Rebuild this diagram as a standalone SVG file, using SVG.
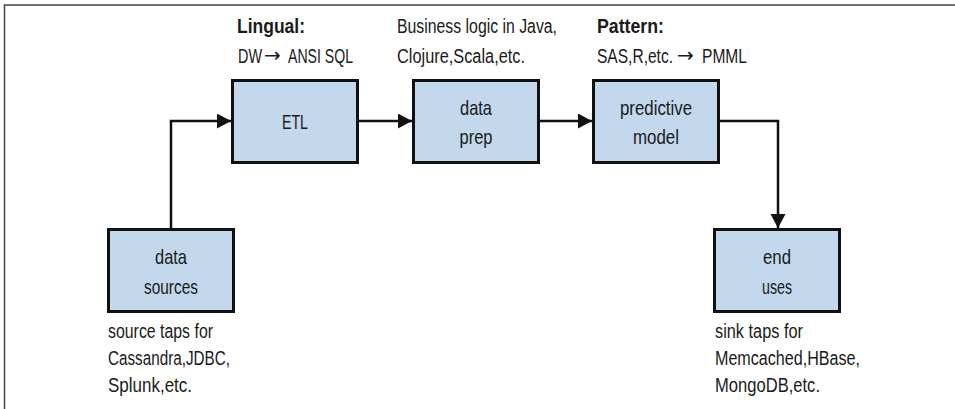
<svg xmlns="http://www.w3.org/2000/svg" width="955" height="409" viewBox="0 0 955 409">
  <defs>
    <style>
      .frame { fill: none; stroke: #444; stroke-width: 1.5; }
      .box { fill: #c3d8ec; stroke: #111; stroke-width: 3; }
      .wire { fill: none; stroke: #111; stroke-width: 2.5; }
      text { font-family: "Liberation Sans", Arial, sans-serif; fill: #1a1a1a; }
      .lbl { font-size: 21px; text-anchor: middle; }
      .note { font-size: 20px; }
      .bold { font-weight: bold; }
      .arr { font-family: "DejaVu Sans", sans-serif; font-size: 20px; }
    </style>
    <marker id="head" markerUnits="userSpaceOnUse" markerWidth="15" markerHeight="16" refX="14" refY="7.5" orient="auto">
      <path d="M0,0 L14,7.5 L0,15 z" fill="#111"/>
    </marker>
  </defs>

  <!-- outer frame: top and left edges only -->
  <path class="frame" d="M4.5,409 V5 H955"/>

  <!-- connectors -->
  <g id="connectors">
    <path class="wire" d="M171,228 V121 H231" marker-end="url(#head)"/>
    <path class="wire" d="M359,121 H412" marker-end="url(#head)"/>
    <path class="wire" d="M540,121 H592" marker-end="url(#head)"/>
    <path class="wire" d="M720,121 H778 V228" marker-end="url(#head)"/>
  </g>

  <g id="etl">
    <rect class="box" x="232.5" y="80.5" width="125" height="82"/>
    <text class="lbl" x="295" y="129" textLength="26" lengthAdjust="spacingAndGlyphs">ETL</text>
    <text class="note bold" x="237" y="33" textLength="68" lengthAdjust="spacingAndGlyphs">Lingual:</text>
    <!-- condensed pieces around the arrow glyph -->
    <text class="note" transform="translate(238,63) scale(0.76,1)" textLength="31.6" lengthAdjust="spacingAndGlyphs">DW</text>
    <text class="arr" x="264" y="62">→</text>
    <text class="note" transform="translate(288,63) scale(0.76,1)" textLength="85.5" lengthAdjust="spacingAndGlyphs">ANSI SQL</text>
  </g>

  <g id="data-prep">
    <rect class="box" x="413.5" y="80.5" width="125" height="82"/>
    <text class="lbl" x="476" y="115" textLength="32" lengthAdjust="spacingAndGlyphs">data</text>
    <text class="lbl" x="476" y="144" textLength="33" lengthAdjust="spacingAndGlyphs">prep</text>
    <text class="note" x="397" y="33" textLength="160" lengthAdjust="spacingAndGlyphs">Business logic in Java,</text>
    <text class="note" x="397" y="63" textLength="128" lengthAdjust="spacingAndGlyphs">Clojure,Scala,etc.</text>
  </g>

  <g id="predictive-model">
    <rect class="box" x="593.5" y="80.5" width="125" height="82"/>
    <text class="lbl" x="656" y="115" textLength="72" lengthAdjust="spacingAndGlyphs">predictive</text>
    <text class="lbl" x="656" y="144" textLength="46" lengthAdjust="spacingAndGlyphs">model</text>
    <text class="note bold" x="597" y="33" textLength="67" lengthAdjust="spacingAndGlyphs">Pattern:</text>
    <text class="note" transform="translate(597,63) scale(0.76,1)" textLength="100" lengthAdjust="spacingAndGlyphs">SAS,R,etc.</text>
    <text class="arr" x="677" y="62">→</text>
    <text class="note" transform="translate(702,63) scale(0.76,1)" textLength="59.2" lengthAdjust="spacingAndGlyphs">PMML</text>
  </g>

  <g id="data-sources">
    <rect class="box" x="108.5" y="229.5" width="125" height="82"/>
    <text class="lbl" x="171" y="264" textLength="32" lengthAdjust="spacingAndGlyphs">data</text>
    <text class="lbl" x="171" y="294" textLength="54" lengthAdjust="spacingAndGlyphs">sources</text>
    <text class="note" x="108" y="338" textLength="105" lengthAdjust="spacingAndGlyphs">source taps for</text>
    <text class="note" x="108" y="365" textLength="122" lengthAdjust="spacingAndGlyphs">Cassandra,JDBC,</text>
    <text class="note" x="108" y="392" textLength="84" lengthAdjust="spacingAndGlyphs">Splunk,etc.</text>
  </g>

  <g id="end-uses">
    <rect class="box" x="714.5" y="229.5" width="125" height="82"/>
    <text class="lbl" x="777" y="264" textLength="28" lengthAdjust="spacingAndGlyphs">end</text>
    <text class="lbl" x="777" y="294" textLength="30" lengthAdjust="spacingAndGlyphs">uses</text>
    <text class="note" x="715" y="338" textLength="88" lengthAdjust="spacingAndGlyphs">sink taps for</text>
    <text class="note" x="715" y="365" textLength="145" lengthAdjust="spacingAndGlyphs">Memcached,HBase,</text>
    <text class="note" x="715" y="392" textLength="105" lengthAdjust="spacingAndGlyphs">MongoDB,etc.</text>
  </g>
</svg>
